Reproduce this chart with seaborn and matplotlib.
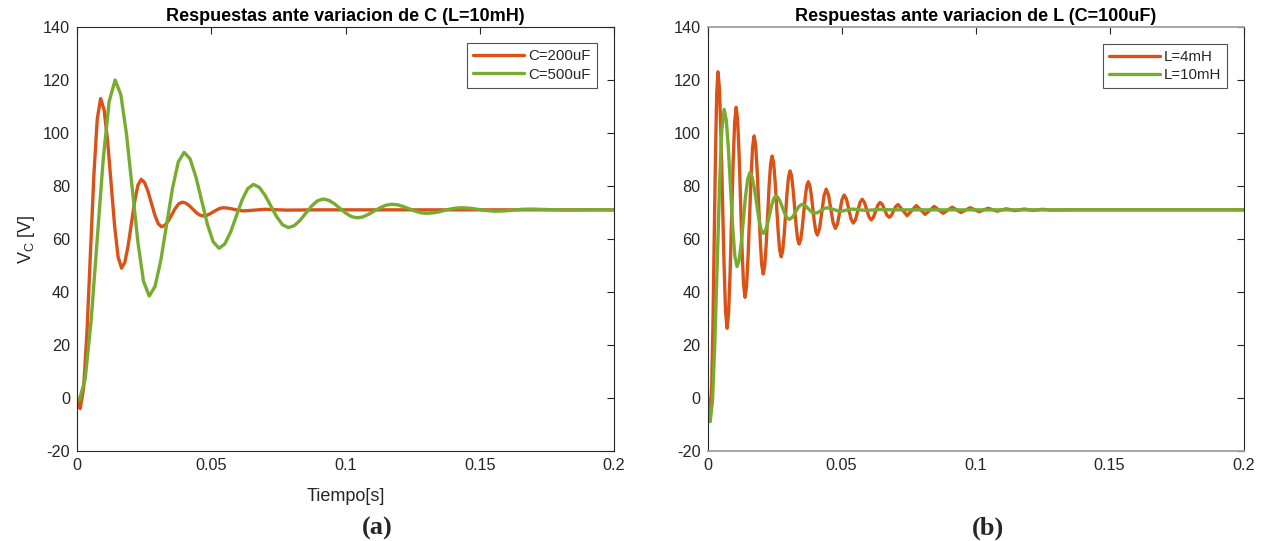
import matplotlib
matplotlib.use("Agg")
import matplotlib.pyplot as plt
import seaborn as sns
import pandas as pd

# ---------------- data ----------------
# Panel (a): L = 10 mH, C varied
t_a_c200 = [0, 0.0006, 0.0012,
            0.00247, 0.00373, 0.0050, 0.00627, 0.00753, 0.0088,
            0.0101, 0.0114, 0.0127, 0.0140, 0.0153, 0.0166,
            0.01782, 0.01903, 0.02025, 0.02147, 0.02268, 0.0239,
            0.02517, 0.02643, 0.0277, 0.02897, 0.03023, 0.0315,
            0.03278, 0.03407, 0.03535, 0.03663, 0.03792, 0.0392,
            0.0405, 0.0418, 0.0431, 0.0444, 0.0457, 0.0470,
            0.04827, 0.04953, 0.0508, 0.05207, 0.05333, 0.0546,
            0.0565, 0.0584, 0.0603, 0.0622, 0.0661, 0.0700,
            0.0780, 0.0900, 0.2]
v_a_c200 = [0, -3.0, -4.0,
            3.8, 25.25, 54.5, 83.75, 105.2, 113.0,
            108.7, 97.0, 81.0, 65.0, 53.3, 49.0,
            51.2, 57.4, 65.75, 74.1, 80.3, 82.5,
            81.3, 78.0, 73.55, 69.1, 65.8, 64.6,
            65.2, 66.9, 69.25, 71.6, 73.3, 73.9,
            73.55, 72.6, 71.3, 70.0, 69.05, 68.7,
            68.9, 69.5, 70.25, 71.0, 71.6, 71.8,
            71.6, 71.2, 70.8, 70.6, 70.9, 71.2,
            70.9, 71.0, 71.0]

t_a_c500 = [0, 0.0008,
            0.00303, 0.00527, 0.0075, 0.00973, 0.01197, 0.0142,
            0.01632, 0.01843, 0.02055, 0.02267, 0.02478, 0.0269,
            0.02907, 0.03123, 0.0334, 0.03557, 0.03773, 0.0399,
            0.04207, 0.04423, 0.0464, 0.04857, 0.05073, 0.0529,
            0.05503, 0.05717, 0.0593, 0.06143, 0.06357, 0.0657,
            0.06787, 0.07003, 0.0722, 0.07437, 0.07653, 0.0787,
            0.08087, 0.08303, 0.0852, 0.08737, 0.08953, 0.0917,
            0.09378, 0.09587, 0.09795, 0.10003, 0.10212, 0.1042,
            0.10637, 0.10853, 0.1107, 0.11287, 0.11503, 0.1172,
            0.11937, 0.12153, 0.1237, 0.12587, 0.12803, 0.1302,
            0.13238, 0.13457, 0.13675, 0.13893, 0.14112, 0.1433,
            0.1465, 0.14965, 0.1528, 0.1560,
            0.15925, 0.1625, 0.16575, 0.1690,
            0.1755, 0.1820, 0.1900, 0.2]
v_a_c500 = [0, -1.0,
            7.1, 29.25, 59.5, 89.75, 111.9, 120.0,
            114.5, 99.6, 79.25, 58.9, 44.0, 38.5,
            42.1, 52.05, 65.6, 79.15, 89.1, 92.7,
            90.3, 83.65, 74.6, 65.55, 58.9, 56.5,
            58.1, 62.5, 68.55, 74.6, 79.0, 80.6,
            79.5, 76.5, 72.45, 68.4, 65.4, 64.3,
            65.0, 67.0, 69.7, 72.4, 74.4, 75.1,
            74.6, 73.3, 71.55, 69.8, 68.5, 68.0,
            68.3, 69.3, 70.55, 71.8, 72.75, 73.1,
            72.9, 72.25, 71.4, 70.55, 69.9, 69.7,
            69.85, 70.2, 70.75, 71.3, 71.65, 71.8,
            71.6, 71.15, 70.7, 70.5,
            70.6, 70.9, 71.2, 71.3,
            71.1, 70.9, 71.0, 71.0]

# Panel (b): C = 100 uF, L varied
t_b_l4 = [0, 0.0005, 0.0011,
          0.00157, 0.00203, 0.0025, 0.00297, 0.00343, 0.0039,
          0.00447, 0.00503, 0.0056, 0.00617, 0.00673, 0.0073,
          0.00787, 0.00843, 0.0090, 0.00957, 0.01013, 0.0107,
          0.01125, 0.0118, 0.01235, 0.0129, 0.01345, 0.0140,
          0.01457, 0.01513, 0.0157, 0.01627, 0.01683, 0.0174,
          0.01797, 0.01853, 0.0191, 0.01967, 0.02023, 0.0208,
          0.02135, 0.0219, 0.02245, 0.0230, 0.02355, 0.0241,
          0.02467, 0.02523, 0.0258, 0.02637, 0.02693, 0.0275,
          0.02805, 0.0286, 0.02915, 0.0297, 0.03025, 0.0308,
          0.03137, 0.03193, 0.0325, 0.03307, 0.03363, 0.0342,
          0.03477, 0.03533, 0.0359, 0.03647, 0.03703, 0.0376,
          0.03817, 0.03873, 0.0393, 0.03987, 0.04043, 0.0410,
          0.041825, 0.04265, 0.043475, 0.0443,
          0.04515, 0.0460, 0.04685, 0.0477,
          0.048525, 0.04935, 0.050175, 0.0510,
          0.05185, 0.0527, 0.05355, 0.0544,
          0.055225, 0.05605, 0.056875, 0.0577,
          0.05855, 0.0594, 0.06025, 0.0611,
          0.061925, 0.06275, 0.063575, 0.0644,
          0.06525, 0.0661, 0.06695, 0.0678,
          0.068625, 0.06945, 0.070275, 0.0711,
          0.0728, 0.0745, 0.0762, 0.0779, 0.07955, 0.0812,
          0.0829, 0.0846, 0.08625, 0.0879, 0.0896, 0.0913,
          0.09295, 0.0946, 0.0963, 0.0980, 0.0997, 0.1014,
          0.10305, 0.1047, 0.1064, 0.1081, 0.10975, 0.1114,
          0.1131, 0.1148, 0.1165, 0.1182, 0.11985, 0.1215,
          0.1232, 0.1249, 0.12655, 0.1282, 0.1350, 0.2]
v_b_l4 = [0, -3.0, -4.0,
          4.5, 27.8, 59.55, 91.3, 114.6, 123.1,
          116.6, 98.9, 74.7, 50.5, 32.8, 26.3,
          31.9, 47.15, 68.0, 88.85, 104.1, 109.7,
          104.9, 91.8, 73.85, 55.9, 42.8, 38.0,
          42.1, 53.2, 68.45, 83.7, 94.8, 98.9,
          95.4, 85.9, 72.85, 59.8, 50.3, 46.8,
          49.8, 57.9, 69.05, 80.2, 88.3, 91.3,
          88.8, 81.8, 72.3, 62.8, 55.85, 53.3,
          55.5, 61.4, 69.5, 77.6, 83.5, 85.7,
          83.85, 78.8, 71.9, 65.0, 59.95, 58.1,
          59.7, 64.0, 69.85, 75.7, 80.0, 81.6,
          80.25, 76.6, 71.55, 66.5, 62.85, 61.5,
          64.0, 70.15, 76.3, 78.8,
          76.6, 71.4, 66.2, 64.0,
          65.8, 70.3, 74.8, 76.6,
          75.05, 71.3, 67.55, 66.0,
          67.3, 70.5, 73.7, 75.0,
          73.85, 71.1, 68.35, 67.2,
          68.2, 70.5, 72.8, 73.8,
          73.0, 71.0, 69.0, 68.2,
          68.9, 70.6, 72.3, 73.0,
          70.9, 68.8, 70.7, 72.6, 71.0, 69.3,
          70.8, 72.3, 71.0, 69.7, 70.85, 72.0,
          71.0, 70.0, 70.9, 71.8, 71.05, 70.3,
          70.95, 71.6, 71.05, 70.5, 70.95, 71.4,
          71.05, 70.7, 71.0, 71.3, 71.05, 70.8,
          71.0, 71.2, 71.05, 70.9, 71.0, 71.0]

t_b_l10 = [0, 0.0005, 0.0010,
           0.00187, 0.00273, 0.0036, 0.00447, 0.00533, 0.0062,
           0.0070, 0.0078, 0.0086, 0.0094, 0.0102, 0.0110,
           0.0118, 0.0126, 0.0134, 0.0142, 0.0150, 0.0158,
           0.01663, 0.01747, 0.0183, 0.01913, 0.01997, 0.0208,
           0.02158, 0.02237, 0.02315, 0.02393, 0.02472, 0.0255,
           0.02633, 0.02717, 0.0280, 0.02883, 0.02967, 0.0305,
           0.0317, 0.0329, 0.0341, 0.0353,
           0.03648, 0.03765, 0.03883, 0.0400,
           0.04118, 0.04235, 0.04353, 0.0447,
           0.0471, 0.0495, 0.05175, 0.0540,
           0.0590, 0.0640, 0.0700, 0.2]
v_b_l10 = [0, -6.0, -8.9,
           -1.0, 20.55, 50.0, 79.45, 101.0, 108.9,
           104.9, 94.1, 79.25, 64.4, 53.6, 49.6,
           52.0, 58.45, 67.3, 76.15, 82.6, 85.0,
           83.5, 79.3, 73.55, 67.8, 63.6, 62.1,
           63.05, 65.6, 69.15, 72.7, 75.25, 76.2,
           75.6, 74.0, 71.8, 69.6, 68.0, 67.4,
           68.2, 70.25, 72.3, 73.1,
           72.6, 71.4, 70.2, 69.7,
           70.0, 70.75, 71.5, 71.8,
           71.1, 70.4, 70.85, 71.3,
           70.8, 71.1, 71.0, 71.0]

titles = ["Respuestas ante variacion de C (L=10mH)",
          "Respuestas ante variacion de L (C=100uF)"]
labels_a = ["C=200uF", "C=500uF"]
labels_b = ["L=4mH", "L=10mH"]
x_ticks = [0, 0.05, 0.1, 0.15, 0.2]
x_ticklabels = ["0", "0.05", "0.1", "0.15", "0.2"]
y_ticks = [-20, 0, 20, 40, 60, 80, 100, 120, 140]
panel_tags = ["(a)", "(b)"]

# ---------------- styling ----------------
sns.set_style("white")
plt.rcParams["font.family"] = ["Liberation Sans", "DejaVu Sans"]
plt.rcParams["axes.unicode_minus"] = False

ORANGE = "#D95319"
GREEN = "#77AC30"
AXC = "#262626"

fig = plt.figure(figsize=(12.65, 5.41), dpi=100)
ax_a = fig.add_axes([77 / 1265, 90 / 541, 537 / 1265, 424 / 541])
ax_b = fig.add_axes([707.5 / 1265, 90 / 541, 536 / 1265, 424 / 541])

series = [
    (ax_a, [(t_a_c200, v_a_c200, labels_a[0], ORANGE),
            (t_a_c500, v_a_c500, labels_a[1], GREEN)], (0.968, 0.962)),
    (ax_b, [(t_b_l4, v_b_l4, labels_b[0], ORANGE),
            (t_b_l10, v_b_l10, labels_b[1], GREEN)], (0.970, 0.960)),
]

for i, (ax, lines, anchor) in enumerate(series):
    for t, v, lab, col in lines:
        df = pd.DataFrame({"t": t, "v": v})
        sns.lineplot(data=df, x="t", y="v", ax=ax, color=col, linewidth=2.4,
                     label=lab, estimator=None, sort=False,
                     solid_joinstyle="round", solid_capstyle="round")
    ax.set_xlim(0, 0.2)
    ax.set_ylim(-20, 140)
    ax.set_xticks(x_ticks)
    ax.set_xticklabels(x_ticklabels)
    ax.set_yticks(y_ticks)
    ax.tick_params(direction="in", length=5, width=0.8, colors=AXC,
                   labelsize=11.7, top=True, right=True, pad=5,
                   labelcolor=AXC)
    for s in ax.spines.values():
        s.set_visible(True)
        s.set_color(AXC)
        s.set_linewidth(0.8)
    ax.set_title(titles[i], fontsize=13, fontweight="bold", color="black", pad=4)
    ax.set_xlabel("")
    ax.set_ylabel("")
    leg = ax.legend(loc="upper right", fontsize=10.8, handlelength=3.4,
                    frameon=True, fancybox=False, borderpad=0.4,
                    labelspacing=0.3, handletextpad=0.3,
                    borderaxespad=0.0, bbox_to_anchor=anchor)
    leg.get_frame().set_edgecolor(AXC)
    leg.get_frame().set_linewidth(0.8)
    for line in leg.get_lines():
        line.set_linewidth(2.4)

ax_b.spines["top"].set_color("#a0a0a0")
ax_b.spines["bottom"].set_color("#a0a0a0")
ax_b.spines["top"].set_linewidth(1.3)
ax_b.spines["bottom"].set_linewidth(1.3)

ax_a.set_ylabel("V$_\\mathregular{C}$ [V]", fontsize=13, color=AXC, labelpad=4)
ax_a.set_xlabel("Tiempo[s]", fontsize=13, color=AXC, labelpad=11)

for tag, xc in zip(panel_tags, [377, 988]):
    fig.text(xc / 1265, 1 - 528 / 541, tag, ha="center", va="center",
             fontsize=19, fontweight="bold",
             family=["Liberation Serif", "DejaVu Serif"])

fig.savefig("out.png", dpi=100)
